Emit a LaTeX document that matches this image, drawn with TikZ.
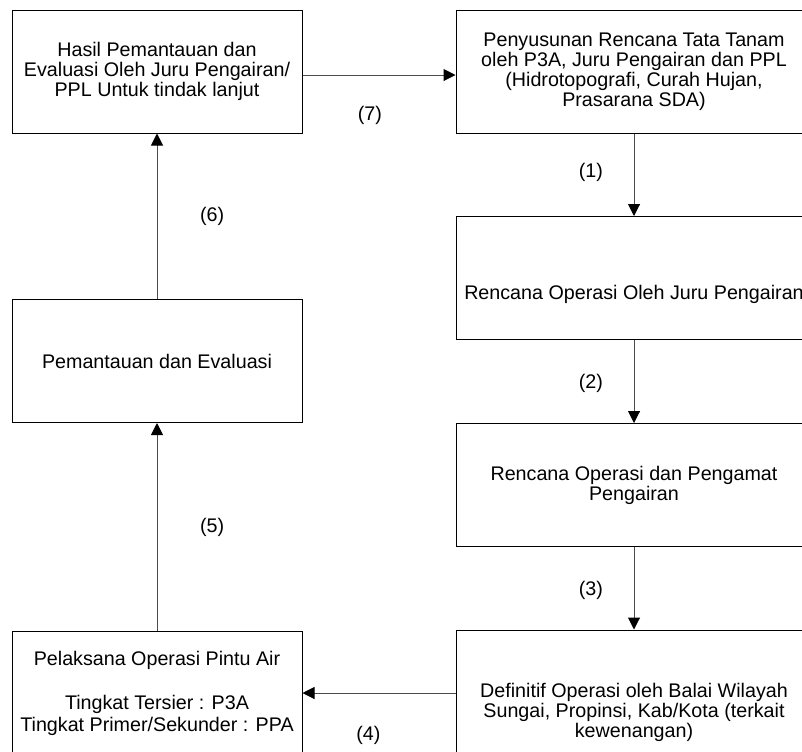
\documentclass[tikz,border=0pt]{standalone}
\usepackage{fontspec}
\setmainfont{Liberation Sans}
\usetikzlibrary{arrows.meta}
\tikzstyle{arrow} = [draw=black!70, line width=0.5pt, -{Triangle[length=6pt,width=6pt,color=black]}]
\tikzstyle{process} = [rectangle, draw, line width=0.5pt, align=center, minimum height=61.5pt, font=\fontsize{9.85}{10}\selectfont]
\tikzstyle{num} = [font=\fontsize{9.85}{10}\selectfont]

\begin{document}
\begin{tikzpicture}[x=0.5pt,y=-0.5pt]
\clip (0,0) rectangle (802,751);

\node [process, minimum width=145pt] (hasil) at (157,71.5) {Hasil Pemantauan dan\\ Evaluasi Oleh Juru Pengairan/\\ PPL Untuk tindak lanjut};
\node [process, minimum width=178pt] (tanam) at (634,71.5) {Penyusunan Rencana Tata Tanam\\ oleh P3A, Juru Pengairan dan PPL\\ (Hidrotopografi, Curah Hujan,\\ Prasarana SDA)};
\node [process, minimum width=178pt, text height=23pt, text depth=2pt] (operasi) at (634,278) {Rencana Operasi Oleh Juru Pengairan};
\node [process, minimum width=178pt] (pengamat) at (634,485) {Rencana Operasi dan Pengamat\\ Pengairan};
\node [process, minimum width=178pt, minimum height=82pt] (definitif) at (634,712) {Definitif Operasi oleh Balai Wilayah\\ Sungai, Propinsi, Kab/Kota (terkait\\ kewenangan)};
\node [process, minimum width=145pt] (pemantauan) at (157,361) {Pemantauan dan Evaluasi};
\node [process, minimum width=145pt, font=\fontsize{9.85}{11}\selectfont] (pelaksana) at (157,693) {Pelaksana Operasi Pintu Air\\ \\ Tingkat Tersier : P3A\\ Tingkat Primer/Sekunder : PPA};

% alur
\draw[arrow] (tanam.south) -- node[num, pos=0.47, left=12pt] (n1) {(1)} (operasi.north);
\draw[arrow] (operasi.south) -- node[num, pos=0.52, left=12pt] (n2) {(2)} (pengamat.north);
\draw[arrow] (pengamat.south) -- node[num, pos=0.52, left=12pt] (n3) {(3)} (definitif.north);
\draw[arrow] (definitif.west |- pelaksana.east) -- node[num, pos=0.57, below=13pt] (n4) {(4)} (pelaksana.east);
\draw[arrow] (pelaksana.north) -- node[num, pos=0.5, right=18pt] (n5) {(5)} (pemantauan.south);
\draw[arrow] (pemantauan.north) -- node[num, pos=0.5, right=18pt] (n6) {(6)} (hasil.south);
\draw[arrow] ([yshift=-1.75pt]hasil.east) -- node[num, pos=0.44, below=12pt] (n7) {(7)} ([yshift=-1.75pt]tanam.west);
\end{tikzpicture}
\end{document}
